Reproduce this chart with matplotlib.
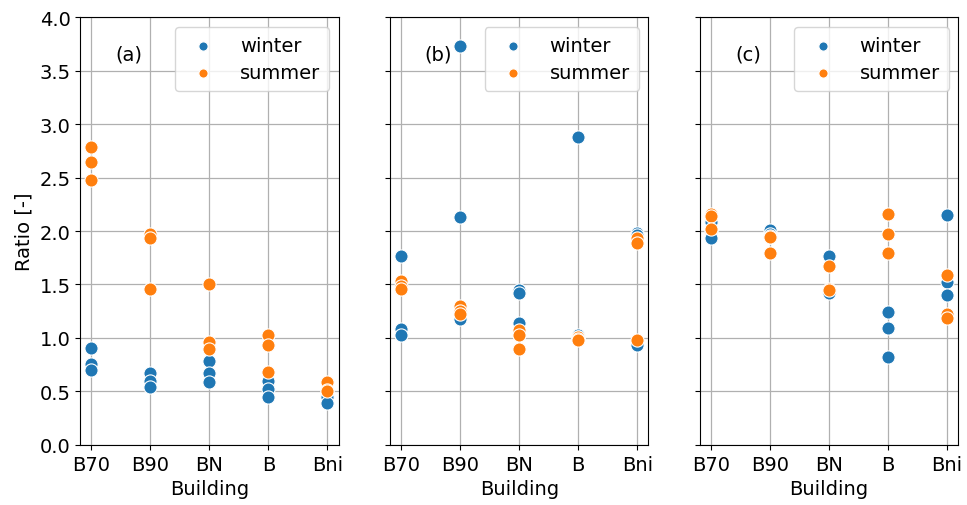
import numpy as np
import matplotlib
matplotlib.use("Agg")
import matplotlib.pyplot as plt

buildings = ["B70", "B90", "BN", "B", "Bni"]

# three values per building, per season, per panel
winter_a = [[0.91, 0.76, 0.70], [0.67, 0.60, 0.54], [0.78, 0.67, 0.59],
            [0.60, 0.52, 0.45], [0.47, 0.45, 0.39]]
summer_a = [[2.79, 2.65, 2.48], [1.97, 1.93, 1.46], [1.50, 0.96, 0.90],
            [1.03, 0.93, 0.68], [0.59, 0.51, 0.50]]

winter_b = [[1.77, 1.08, 1.03], [3.73, 2.13, 1.18], [1.45, 1.42, 1.14],
            [2.88, 1.03, 1.01], [1.98, 1.96, 0.93]]
summer_b = [[1.53, 1.49, 1.46], [1.30, 1.25, 1.22], [1.07, 1.03, 0.90],
            [1.01, 0.99, 0.98], [1.93, 1.89, 0.98]]

winter_c = [[2.08, 2.00, 1.93], [2.01, 1.97, 1.94], [1.77, 1.43, 1.42],
            [1.24, 1.09, 0.82], [2.15, 1.52, 1.40]]
summer_c = [[2.16, 2.14, 2.02], [1.95, 1.94, 1.79], [1.67, 1.46, 1.45],
            [2.16, 1.97, 1.79], [1.59, 1.22, 1.19]]

panels = [("(a)", winter_a, summer_a), ("(b)", winter_b, summer_b), ("(c)", winter_c, summer_c)]

plt.rcParams["font.size"] = 14

fig, axes = plt.subplots(1, 3, figsize=(9.67, 5.06), dpi=100, sharey=True)
fig.subplots_adjust(left=0.083, right=0.991, bottom=0.119, top=0.964, wspace=0.20)

for ax, (tag, win, summ) in zip(axes, panels):
    xs_w = np.repeat(np.arange(len(buildings)), [len(v) for v in win])
    ys_w = np.concatenate([np.array(v) for v in win])
    xs_s = np.repeat(np.arange(len(buildings)), [len(v) for v in summ])
    ys_s = np.concatenate([np.array(v) for v in summ])
    ax.scatter(xs_w, ys_w, s=90, color="#1f77b4", edgecolor="white", linewidth=0.8,
               label="winter", zorder=3)
    ax.scatter(xs_s, ys_s, s=90, color="#ff7f0e", edgecolor="white", linewidth=0.8,
               label="summer", zorder=3)
    ax.set_xticks(range(len(buildings)))
    ax.set_xticklabels(buildings)
    ax.set_xlim(-0.19, 4.19)
    ax.set_ylim(0, 4.0)
    ax.set_yticks(np.arange(0, 4.01, 0.5))
    ax.grid(True, color="#b0b0b0", linewidth=0.9)
    ax.set_axisbelow(True)
    ax.set_xlabel("Building")
    ax.text(0.63, 3.66, tag, ha="center", va="center")
    ax.legend(loc="upper right", fontsize=14, handletextpad=0.9, markerscale=0.7,
              borderpad=0.45, labelspacing=0.45)

axes[0].set_ylabel("Ratio [-]")

fig.savefig("out.png", dpi=100)
